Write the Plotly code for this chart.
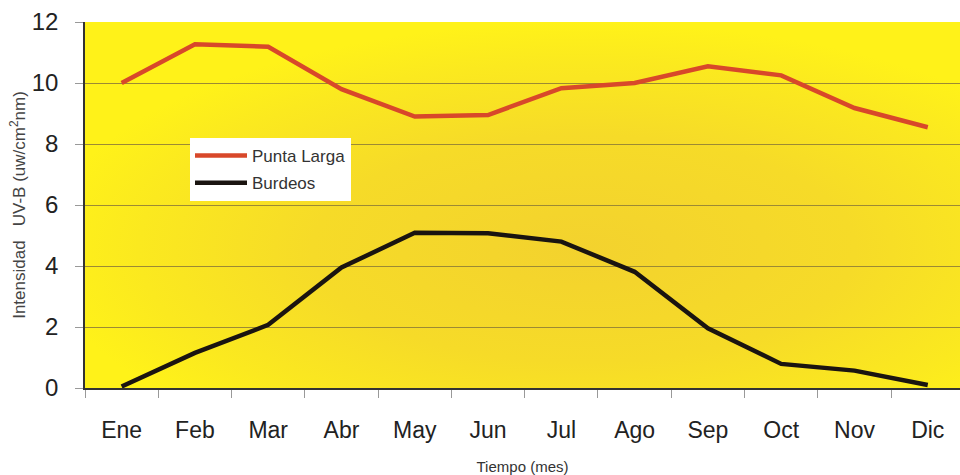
import base64
import plotly.graph_objects as go

months = ["Ene", "Feb", "Mar", "Abr", "May", "Jun", "Jul", "Ago", "Sep", "Oct", "Nov", "Dic"]
punta_larga = [10.0, 11.27, 11.19, 9.8, 8.9, 8.95, 9.83, 10.0, 10.55, 10.25, 9.18, 8.55]
burdeos = [0.05, 1.15, 2.07, 3.95, 5.09, 5.07, 4.8, 3.81, 1.96, 0.79, 0.57, 0.1]
y_ticks = [0, 2, 4, 6, 8, 10, 12]

FONT = "Liberation Sans, Arial, sans-serif"

# Background gradient (yellow with golden centre) as an SVG image
svg = (
    '<svg xmlns="http://www.w3.org/2000/svg" width="100" height="100" preserveAspectRatio="none">'
    '<defs><radialGradient id="g" cx="0.57" cy="0.62" r="0.62">'
    '<stop offset="0" stop-color="#F3D22E"/>'
    '<stop offset="0.5" stop-color="#F6DB28"/>'
    '<stop offset="0.82" stop-color="#FBE91F"/>'
    '<stop offset="1" stop-color="#FFF219"/>'
    '</radialGradient></defs>'
    '<rect x="0" y="0" width="100" height="100" fill="url(#g)"/></svg>'
)
svg_uri = "data:image/svg+xml;base64," + base64.b64encode(svg.encode()).decode()

fig = go.Figure()
fig.add_trace(go.Scatter(
    x=months, y=punta_larga, mode="lines", name="Punta Larga",
    line=dict(color="#D8482A", width=4.5), legendgroup="a",
))
fig.add_trace(go.Scatter(
    x=months, y=burdeos, mode="lines", name="Burdeos",
    line=dict(color="#1A1410", width=4.5), legendgroup="b",
))

fig.update_layout(
    width=960, height=475,
    margin=dict(l=85, r=0, t=22, b=87),
    paper_bgcolor="white",
    plot_bgcolor="#F8E020",
    font=dict(family=FONT, color="#222"),
    images=[dict(source=svg_uri, xref="paper", yref="paper", x=0, y=1,
                 sizex=1, sizey=1, sizing="stretch", layer="below", xanchor="left", yanchor="top")],
    legend=dict(
        x=0.12, y=0.683, xanchor="left", yanchor="top",
        bgcolor="white", borderwidth=0,
        font=dict(size=17, family=FONT, color="#333"),
        traceorder="grouped", tracegroupgap=2, itemwidth=52,
    ),
    showlegend=True,
)
fig.update_xaxes(
    type="category", range=[-0.5, 11.44],
    tickson="boundaries", ticks="outside", ticklen=8, tickcolor="#999",
    showgrid=False, showline=True, linecolor="#333", linewidth=1.5,
    tickfont=dict(size=23, color="#222"),
    ticklabelstandoff=21,
    title=dict(text="Tiempo (mes)", font=dict(size=15, color="#333"), standoff=19),
)
fig.update_yaxes(
    range=[0, 12], tickvals=y_ticks,
    ticks="outside", ticklen=8, tickcolor="#999",
    showgrid=True, gridcolor="#9C8A34", gridwidth=1,
    showline=True, linecolor="#333", linewidth=1.5,
    zeroline=False,
    tickfont=dict(size=24, color="#222"),
    ticklabelstandoff=12,
    title=dict(text="Intensidad   UV-B (uw/cm<sup>2</sup>nm)", font=dict(size=17, color="#444"), standoff=2),
)

fig.write_html("out.html")
